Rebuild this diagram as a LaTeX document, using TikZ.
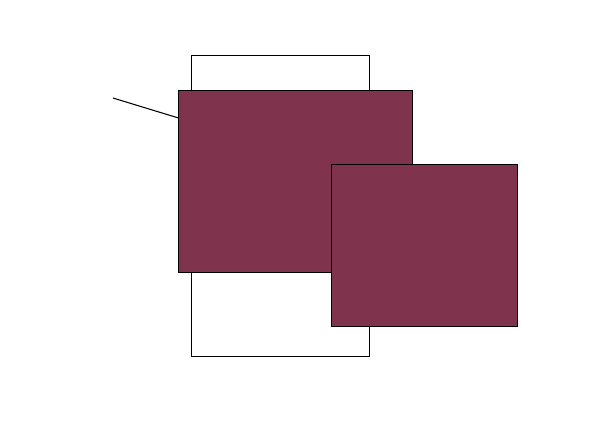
\documentclass[tikz,border=0pt]{standalone}
\usepackage{tikz}
\usetikzlibrary{positioning,calc}
\definecolor{wine}{RGB}{127,51,77}

\begin{document}
\begin{tikzpicture}[x=0.02cm,y=-0.02cm]
  % x: 0--600, y: 0--430 (px, y down)
  \useasboundingbox (0,0) rectangle (600,430);
  \tikzset{panel/.style={draw=black,line width=0.6pt,inner sep=0pt,outer sep=0pt,anchor=north west}}
  % back sheet, front sheet, side sheet
  \node[panel,fill=white,minimum width=3.56cm,minimum height=6.02cm] (back) at (191.5,55.5) {};
  \node[panel,fill=wine,minimum width=4.68cm,minimum height=3.64cm] (front) at (178.5,90.5) {};
  \node[panel,fill=wine,minimum width=3.72cm,minimum height=3.24cm] (side) at (331.5,164.5) {};
  % pointer
  \coordinate (tip) at (113,98);
  \draw[line width=0.6pt] (tip) -- (front.west |- 0,118);
\end{tikzpicture}
\end{document}
